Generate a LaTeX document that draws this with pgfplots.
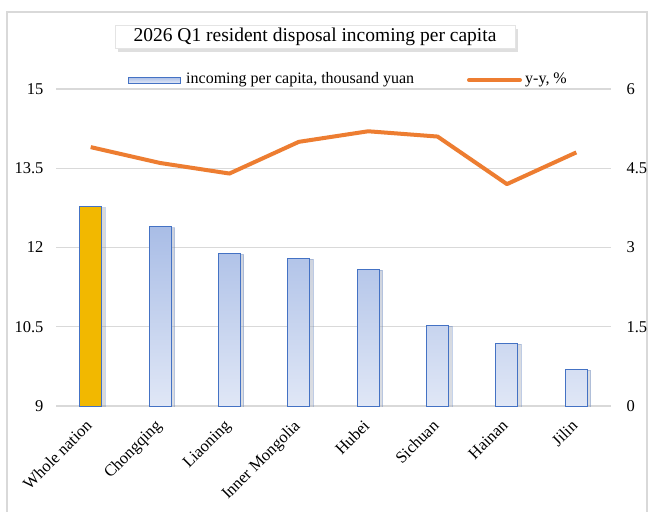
\documentclass[border=0pt]{standalone}
\usepackage{fontspec}
\setmainfont{Liberation Serif}
\usepackage{pgfplots}
\pgfplotsset{compat=1.18}
\usepackage{pgfplotstable}
\usetikzlibrary{shadows}

\definecolor{barblue}{HTML}{4472C4}
\definecolor{bartop}{HTML}{A9BDE6}
\definecolor{barbot}{HTML}{E0E7F6}
\definecolor{nation}{HTML}{F2B800}
\definecolor{lineor}{HTML}{ED7D31}
\definecolor{gridc}{HTML}{D9D9D9}

% income per capita (thousand yuan) and y-y growth (%)
\pgfplotstableread{
i inc
0 12.77
}\nationdata
\pgfplotstableread{
i inc
1 12.39
2 11.89
3 11.80
4 11.59
5 10.53
6 10.19
7 9.70
}\provdata
\pgfplotstableread{
i yy
0 4.9
1 4.6
2 4.4
3 5.0
4 5.2
5 5.1
6 4.2
7 4.8
}\yydata

\begin{document}
\begin{tikzpicture}
\useasboundingbox (0bp,0bp) rectangle (652bp,-512bp);
\fill[white] (0bp,0bp) rectangle (652bp,-512bp);
\draw[gridc, line width=1.5bp] (7bp,-512bp) -- (7bp,-12bp) -- (647bp,-12bp) -- (647bp,-512bp);

\pgfplotsset{
  base/.style={
    at={(56bp,-406bp)}, anchor=south west,
    scale only axis, width=555bp, height=317bp,
    xmin=-0.5, xmax=7.5, ymin=0, ymax=6,
    axis line style={draw=none}, major tick length=0pt,
    /pgf/number format/assume math mode=true,
    tick label style={font=\fontsize{16.5bp}{18bp}\selectfont},
  }
}

\begin{axis}[base,
  ytick={0,1.5,3,4.5,6},
  yticklabels={9,10.5,12,13.5,15},
  yticklabel style={xshift=-9bp},
  ymajorgrids, grid style={draw=gridc, line width=1.2bp},
  xtick={0,...,7},
  xticklabels={Whole nation,Chongqing,Liaoning,Inner Mongolia,Hubei,Sichuan,Hainan,Jilin},
  xticklabel style={xshift=-6bp, yshift=-8bp, rotate=45, anchor=north east},
]
\addplot[ybar, bar shift=0pt, bar width=22bp, draw=barblue, line width=0.9bp,
  fill=nation, drop shadow={shadow xshift=3.5bp, shadow yshift=-1bp, opacity=0.28}]
  table[x=i, y expr=\thisrow{inc}-9] {\nationdata};
\addplot[ybar, bar shift=0pt, bar width=22bp, draw=barblue, line width=0.9bp,
  top color=bartop, bottom color=barbot,
  drop shadow={shadow xshift=3.5bp, shadow yshift=-1bp, opacity=0.28}]
  table[x=i, y expr=\thisrow{inc}-9] {\provdata};
\end{axis}

\begin{axis}[base,
  axis y line*=right, axis x line=none,
  ytick={0,1.5,3,4.5,6},
  yticklabel style={anchor=west, xshift=12bp},
]
\addplot[lineor, line width=4bp, line join=round, no marks] table[x=i, y=yy] {\yydata};
\end{axis}

% title box
\node[draw=gridc!70, fill=white, drop shadow={shadow xshift=3bp, shadow yshift=-3bp, opacity=0.25},
  minimum width=400bp, minimum height=23bp, inner sep=0pt,
  font=\fontsize{19.5bp}{22bp}\selectfont] at (315bp,-37bp) {2026 Q1 resident disposal incoming per capita};

% legend
\shade[top color=bartop, bottom color=barbot, draw=barblue, line width=0.8bp] (128bp,-77bp) rectangle (180bp,-83bp);
\node[anchor=west, inner sep=0pt, font=\fontsize{16bp}{18bp}\selectfont] at (186bp,-80bp) {incoming per capita, thousand yuan};
\draw[lineor, line width=4bp, line cap=round] (469bp,-80bp) -- (520bp,-80bp);
\node[anchor=west, inner sep=0pt, font=\fontsize{16bp}{18bp}\selectfont] at (525bp,-80bp) {y-y, \%};
\end{tikzpicture}
\end{document}
